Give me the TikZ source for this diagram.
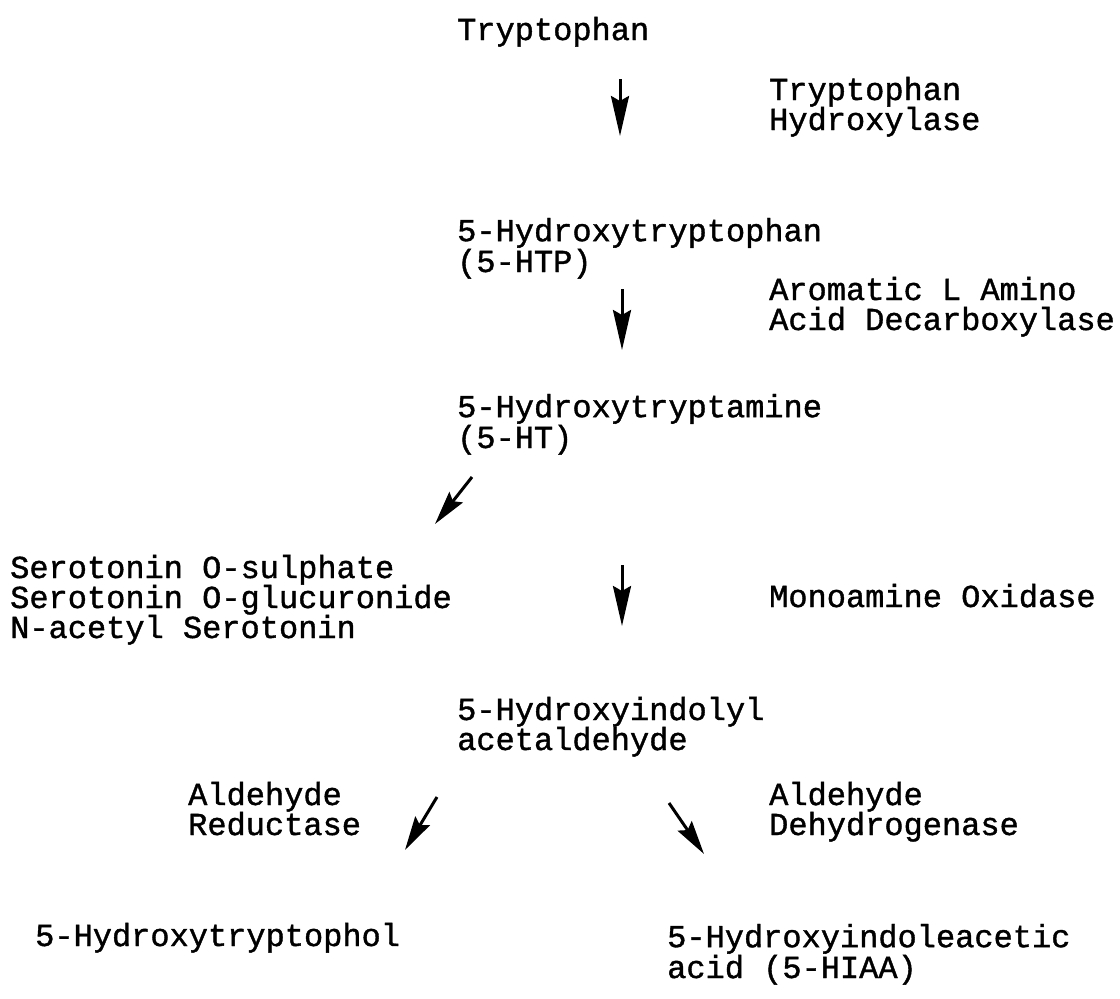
\documentclass[tikz,border=0pt]{standalone}
\usepackage{fontspec}
\setmainfont{Liberation Mono}[FakeBold=1.2]
\usetikzlibrary{arrows.meta}
\begin{document}
\begin{tikzpicture}[x=1pt,y=-1pt,
  lbl/.style={anchor=base west,inner sep=0pt,align=left,font=\fontsize{32}{30}\selectfont},
  tight/.style={font=\fontsize{32}{29}\selectfont},
  rxn/.style={line width=3pt,-{Stealth[length=40pt,width=18pt,inset=5pt]}},
  rxnd/.style={line width=3pt,-{Stealth[length=34pt,width=17pt,inset=5pt]}}]
\useasboundingbox (0,0) rectangle (1120,999);
% compounds (anchor = baseline of the last line)
\node[lbl] (trp)  at (457,40)  {Tryptophan};
\node[lbl,tight] (htp)  at (457,272) {5-Hydroxytryptophan\\(5-HTP)};
\node[lbl,tight] (ht)   at (457,448) {5-Hydroxytryptamine\\(5-HT)};
\node[lbl] (conj) at (10,638)  {Serotonin O-sulphate\\Serotonin O-glucuronide\\N-acetyl Serotonin};
\node[lbl] (hial) at (457,750) {5-Hydroxyindolyl\\acetaldehyde};
\node[lbl] (htol) at (35,946)  {5-Hydroxytryptophol};
\node[lbl,tight] (hiaa) at (667,978) {5-Hydroxyindoleacetic\\acid (5-HIAA)};
% enzymes
\node[lbl] (tph)  at (769,130) {Tryptophan\\Hydroxylase};
\node[lbl] (aadc) at (769,330) {Aromatic L Amino\\Acid Decarboxylase};
\node[lbl] (mao)  at (769,607) {Monoamine Oxidase};
\node[lbl] (ar)   at (188,835) {Aldehyde\\Reductase};
\node[lbl] (adh)  at (769,835) {Aldehyde\\Dehydrogenase};
% arrow ends
\coordinate (a1s) at (620,79);  \coordinate (a1e) at (620,136);
\coordinate (a2s) at (622,289); \coordinate (a2e) at (622,350);
\coordinate (a3s) at (472,477); \coordinate (a3e) at (435,524);
\coordinate (a4s) at (622,565); \coordinate (a4e) at (622,626);
\coordinate (a5s) at (437,797); \coordinate (a5e) at (405,850);
\coordinate (a6s) at (669,803); \coordinate (a6e) at (704,854);
\draw[rxn]  (a1s) -- (a1e);
\draw[rxn]  (a2s) -- (a2e);
\draw[rxnd] (a3s) -- (a3e);
\draw[rxn]  (a4s) -- (a4e);
\draw[rxnd] (a5s) -- (a5e);
\draw[rxnd] (a6s) -- (a6e);
\end{tikzpicture}
\end{document}
